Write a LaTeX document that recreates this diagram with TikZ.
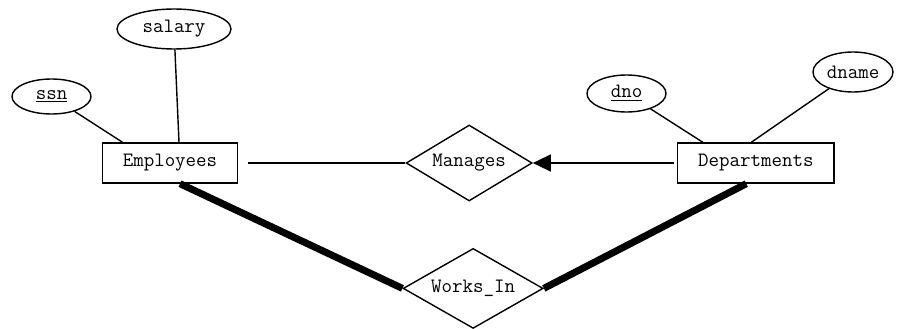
\documentclass[tikz,border=0pt]{standalone}
\usepackage{tikz}
\usetikzlibrary{shapes.geometric, arrows.meta, positioning}

\begin{document}
\begin{tikzpicture}[
    node distance=1.0cm and 1.2cm,
    entbox/.style={draw, rectangle, line width=0.8pt, font=\ttfamily\fontsize{11.6}{13}\selectfont, inner xsep=0.41cm, minimum height=0.8cm},
    attrbox/.style={draw, ellipse, line width=0.8pt, font=\ttfamily\fontsize{11.6}{13}\selectfont, inner sep=0pt, minimum width=1.58cm, minimum height=0.7cm},
    relbox/.style={draw, diamond, line width=0.8pt, font=\ttfamily\fontsize{11.6}{13}\selectfont, inner sep=0pt, shape aspect=1.7},
    link/.style={line width=0.8pt},
    total/.style={line width=4pt},
    keyarrow/.style={line width=0.8pt, -{Triangle[length=0.36cm, width=0.34cm]}}
]
\useasboundingbox (0,0) rectangle (18.12,-6.58);

% entities and relationships
\node (emp) [entbox] at (3.40,-3.26) {Employees};
\node (mgr) [relbox, minimum width=2.52cm, minimum height=1.52cm, right=3.34cm of emp] {Manages};
\node (dept) [entbox, right=2.88cm of mgr] {Departments};
\node (works) [relbox, minimum width=2.8cm, minimum height=1.6cm, below=0.92cm of mgr, xshift=0.08cm] {Works\_In};

% attributes
\node (ssn) [attrbox] at (1.03,-1.93) {\underline{ssn}};
\node (salary) [attrbox, minimum width=2.28cm, minimum height=0.8cm] at (3.48,-0.58) {salary};
\node (dno) [attrbox, minimum height=0.74cm] at (12.53,-1.87) {\underline{dno}};
\node (dname) [attrbox, minimum width=1.6cm, minimum height=0.8cm] at (17.06,-1.44) {dname};

\draw [link] (ssn) -- ([xshift=0.42cm]emp.north west);
\draw [link] (salary) -- ([xshift=0.18cm]emp.north);
\draw [link] (dno) -- ([xshift=0.52cm]dept.north west);
\draw [link] (dname) -- ([xshift=-0.09cm]dept.north);

% key constraint and total participation
\draw [link, shorten <=0.2cm] (emp) -- (mgr);
\draw [keyarrow, shorten <=0.06cm] (dept) -- (mgr.east);
\draw [total] ([xshift=0.2cm]emp.south) -- (works.west);
\draw [total] ([xshift=-0.19cm]dept.south) -- (works.east);

\end{tikzpicture}
\end{document}
